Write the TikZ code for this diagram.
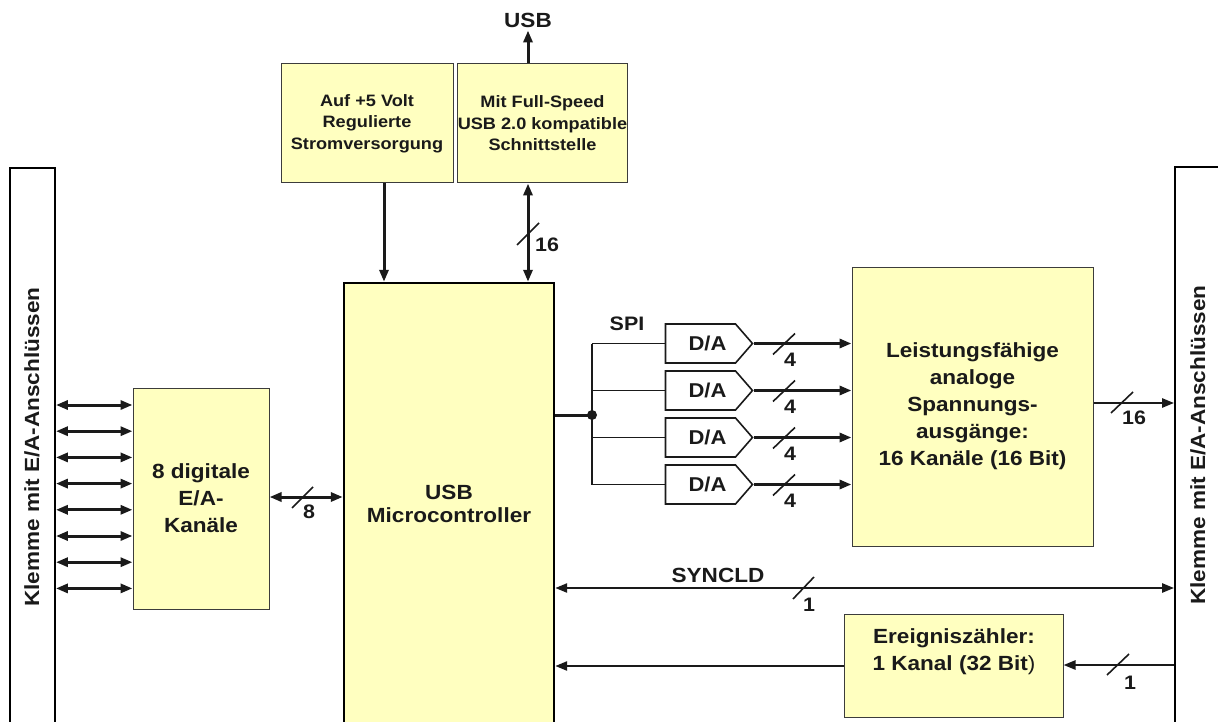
\documentclass[tikz,border=0pt]{standalone}
\usepackage{fontspec}
\setmainfont{Liberation Sans}[FakeStretch=1.1]
\usetikzlibrary{arrows.meta,shapes.symbols}
\definecolor{boxfill}{HTML}{FFFFC0}
\definecolor{ink}{HTML}{1A1A1A}
\newcommand\fsmall{\fontsize{16.5}{21.5}\selectfont}
\newcommand\fbig{\fontsize{20.5}{27}\selectfont}
\newcommand\fmcu{\fontsize{20.5}{23}\selectfont}
\newcommand\flbl{\fontsize{19.5}{21}\selectfont}
\newcommand\fda{\fontsize{20}{22}\selectfont}
\begin{document}
\begin{tikzpicture}[x=1pt,y=-1pt,
  >={Triangle[length=12pt,width=9pt]},
  ybox/.style={draw=ink!85, line width=1pt, fill=boxfill, inner sep=0pt, align=center, text=ink},
  stripbox/.style={draw=black, line width=1.8pt, fill=white, inner sep=0pt},
  txt/.style={inner sep=0pt, align=center, text=ink, font=\bfseries\fbig},
  lbl/.style={inner sep=0pt, text=ink, font=\bfseries\flbl},
  conn/.style={line width=3pt, draw=ink},
  mid/.style={line width=2.4pt, draw=ink},
  thinline/.style={line width=1.7pt, draw=ink},
  slashmark/.style={line width=1.6pt, draw=ink},
  dabox/.style={signal, signal to=east, signal pointer angle=98, draw=ink, line width=1.6pt, fill=white,
    minimum width=87pt, minimum height=39pt, inner sep=0pt, text=ink, font=\bfseries\fda}
]
\useasboundingbox (0,0) rectangle (1218,722);
\clip (0,0) rectangle (1218,722);

% terminal strips
\node[stripbox, minimum width=45pt, minimum height=580pt] (lstrip) at (32.5,458) {};
\node[txt, rotate=90] (ltxt) at (32,447) {Klemme mit E/A-Anschlüssen};
\node[stripbox, minimum width=65pt, minimum height=583pt] (rstrip) at (1207.5,458.5) {};
\node[txt, rotate=90] (rtxt) at (1198,445) {Klemme mit E/A-Anschlüssen};

% top boxes
\node[ybox, minimum width=172pt, minimum height=119pt, font=\bfseries\fsmall] (pwr) at (367,123.5) {Auf +5 Volt\\Regulierte\\Stromversorgung};
\node[ybox, minimum width=163pt, minimum height=119pt, font=\bfseries\fsmall] (usbif) at (542.5,123.5) {Mit Full-Speed\\USB 2.0 kompatible\\Schnittstelle};
\node[txt, inner sep=3pt] (usbtxt) at (528,20) {USB};

% microcontroller
\node[ybox, draw=black, line width=2.4pt, minimum width=210pt, minimum height=460pt] (mcu) at (449,513) {};
\node[txt, font=\bfseries\fmcu] (mcutxt) at (449,504) {USB\\Microcontroller};

% digital IO
\node[ybox, minimum width=136pt, minimum height=221pt, font=\bfseries\fbig] (dig) at (201,498.5) {8 digitale\\E/A-\\Kanäle};

% analog outputs
\node[ybox, minimum width=241pt, minimum height=279pt, font=\bfseries\fbig] (ana) at (972.5,406.5) {Leistungsfähige\\analoge\\Spannungs-\\ausgänge:\\16 Kanäle (16 Bit)};

% counter
\node[ybox, minimum width=219pt, minimum height=103pt] (cnt) at (953.5,665.5) {};
\node[txt] (cnttxt) at (954,652) {Ereigniszähler:\\1 Kanal (32 Bit{\mdseries)}};

% D/A converters
\node[dabox] (da1) at (700.5,343.5) {\hspace*{14pt}D/A};
\node[dabox] (da2) at (700.5,390.5) {\hspace*{14pt}D/A};
\node[dabox] (da3) at (700.5,437.5) {\hspace*{14pt}D/A};
\node[dabox] (da4) at (700.5,484.5) {\hspace*{14pt}D/A};
\coordinate (jn) at (592,415);
\node[lbl] (spi) at (627,324) {SPI};

% top connections
\draw[conn,->] (usbif.north -| usbtxt) -- (usbtxt.south);
\draw[conn,->] ([xshift=17pt]pwr.south) -- ([xshift=17pt]pwr.south |- mcu.north);
\draw[conn,<->] (usbif.south -| usbtxt) -- (mcu.north -| usbtxt);
\draw[slashmark] (517,245) -- (539,223);
\node[lbl] (l16a) at (547,245) {16};

% digital IO lines
\foreach \k in {0,...,7}{
  \draw[conn,<->] (lstrip.east |- 0,{405+26.2*\k}) -- (dig.west |- 0,{405+26.2*\k});
}
\draw[conn,<->] (dig.east |- 0,497) -- (mcu.west |- 0,497);
\draw[slashmark] (292,508) -- (313,487);
\node[lbl] (l8) at (309,512) {8};

% SPI bus
\draw[conn] (mcu.east |- jn) -- (jn);
\fill[ink] (jn) circle (5pt);
\draw[thinline] (jn |- da1.west) -- (jn |- da4.west);
\foreach \i/\c in {1/343.5,2/390.5,3/437.5,4/484.5}{
  \draw[thinline] (jn |- da\i.west) -- (da\i.west);
  \draw[conn,->] (da\i.east) -- (ana.west |- da\i.east);
  \draw[slashmark] (773,{\c+11}) -- (795,{\c-10});
  \node[lbl] (l4\i) at (790,{\c+16}) {4};
}

% analog out
\draw[mid,->] (ana.east |- 0,403) -- (rstrip.west |- 0,403);
\draw[slashmark] (1111,413) -- (1133,392);
\node[lbl] (l16b) at (1134,418) {16};

% SYNCLD
\draw[mid,<->] (mcu.east |- 0,588) -- (rstrip.west |- 0,588);
\node[txt] (sync) at (718,575) {SYNCLD};
\draw[slashmark] (793,599) -- (814,577);
\node[lbl] (l1a) at (809,605) {1};

% counter
\draw[mid,->] (rstrip.west |- 0,665) -- (cnt.east |- 0,665);
\draw[mid,->] (cnt.west |- 0,666) -- (mcu.east |- 0,666);
\draw[slashmark] (1107,675) -- (1129,654);
\node[lbl] (l1b) at (1130,683) {1};
\end{tikzpicture}
\end{document}
